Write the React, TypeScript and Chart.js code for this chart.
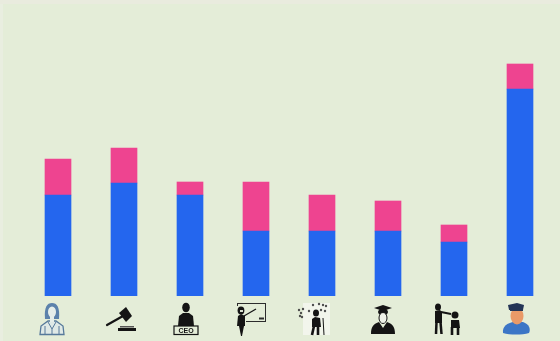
import React, { useEffect, useRef } from "react";
import { Chart, registerables } from "chart.js";

Chart.register(...registerables);

const professions = ["Doctor", "Judge", "CEO", "Teacher", "Musician", "Graduate", "Parent", "Police"];
const lowerSegment = [101, 113, 101, 65, 65, 65, 54, 207];
const upperSegment = [36, 35, 13, 49, 36, 30, 17, 25];

const BLUE = "#2466ee";
const PINK = "#ee4490";
const BACKGROUND = "#e4edd8";
const INK = "#141414";

type Ctx = CanvasRenderingContext2D;

function disc(c: Ctx, x: number, y: number, rx: number, ry = rx) {
  c.beginPath();
  c.ellipse(x, y, rx, ry, 0, 0, Math.PI * 2);
  c.fill();
}

function poly(c: Ctx, pts: number[]) {
  c.beginPath();
  c.moveTo(pts[0], pts[1]);
  for (let i = 2; i < pts.length; i += 2) c.lineTo(pts[i], pts[i + 1]);
  c.closePath();
  c.fill();
}

function seg(c: Ctx, x1: number, y1: number, x2: number, y2: number, w: number) {
  c.lineWidth = w;
  c.beginPath();
  c.moveTo(x1, y1);
  c.lineTo(x2, y2);
  c.stroke();
}

// Pictograms are drawn around the tick position, with y measured from the axis baseline.
const pictograms: ((c: Ctx) => void)[] = [
  (c) => {
    c.fillStyle = "#dfe9e6";
    c.strokeStyle = "#56799a";
    c.lineWidth = 1.3;
    c.beginPath();
    c.moveTo(-18, 38.5);
    c.lineTo(-17, 30);
    c.lineTo(-10, 25);
    c.lineTo(-2, 25);
    c.lineTo(5, 30);
    c.lineTo(6, 38.5);
    c.closePath();
    c.fill();
    c.stroke();
    c.fillStyle = "#5c82ab";
    c.beginPath();
    c.moveTo(-13, 23);
    c.bezierCurveTo(-14, 11, -11, 7, -6, 7);
    c.bezierCurveTo(-1, 7, 2, 11, 1, 23);
    c.closePath();
    c.fill();
    c.fillStyle = "#e6eeea";
    disc(c, -6, 16, 4, 5.5);
    c.fillRect(-8, 20, 4, 6);
    c.strokeStyle = "#56799a";
    c.lineWidth = 1;
    c.beginPath();
    c.moveTo(-10, 26);
    c.lineTo(-6, 33);
    c.lineTo(-2, 26);
    c.moveTo(-6, 33);
    c.lineTo(-6, 38);
    c.moveTo(-13, 30);
    c.lineTo(-13, 38);
    c.moveTo(1, 30);
    c.lineTo(1, 38);
    c.stroke();
  },
  (c) => {
    c.fillStyle = INK;
    c.strokeStyle = INK;
    c.lineCap = "round";
    seg(c, -17, 29, -1, 20, 2.2);
    c.lineCap = "butt";
    poly(c, [-5, 17, 2, 11, 8, 20, 2, 26]);
    c.fillStyle = "#555";
    c.fillRect(-4, 30, 14, 1.5);
    c.fillStyle = INK;
    c.fillRect(-6, 32, 18, 3);
  },
  (c) => {
    c.fillStyle = INK;
    c.strokeStyle = INK;
    c.lineWidth = 1.2;
    disc(c, -4, 11.5, 3.8, 4.8);
    poly(c, [-12, 30, -11, 20, -7, 17, -1, 17, 3, 20, 4, 30]);
    c.fillStyle = BACKGROUND;
    c.fillRect(-16, 30, 24, 8.5);
    c.strokeRect(-16, 30, 24, 8.5);
    c.fillStyle = INK;
    c.font = "bold 7px 'Liberation Sans', sans-serif";
    c.textAlign = "center";
    c.textBaseline = "middle";
    c.fillText("CEO", -4, 34.6);
  },
  (c) => {
    c.fillStyle = INK;
    c.strokeStyle = "#2c2c2c";
    c.lineWidth = 1;
    c.strokeRect(-18.5, 7.5, 28, 18);
    seg(c, 3, 22.5, 8, 22.5, 2);
    c.fillStyle = BACKGROUND;
    c.fillRect(-20, 10, 10, 16);
    c.fillStyle = INK;
    c.strokeStyle = INK;
    disc(c, -15, 14.5, 3.4, 4);
    poly(c, [-19, 30, -18, 20, -15, 18, -11, 20, -11, 30]);
    poly(c, [-17, 30, -12, 30, -14, 40, -15, 40]);
    seg(c, -12, 20, 0, 13, 1.3);
    c.fillStyle = "#d8dfcf";
    c.fillRect(-16, 14, 3, 2);
  },
  (c) => {
    c.fillStyle = "#f2f5ec";
    c.fillRect(-19, 7, 27, 32);
    c.fillStyle = INK;
    c.strokeStyle = INK;
    disc(c, -6, 17, 3, 3.6);
    poly(c, [-10, 31, -10, 23, -7, 21, -2, 22, -1, 31]);
    seg(c, -8, 30, -10, 39, 2.6);
    seg(c, -4, 30, -4, 39, 2.6);
    seg(c, 1, 22, 2, 39, 1);
    c.fillStyle = "#4d4d4d";
    const specks = [[-23, 14], [-21, 17], [-22, 20], [-19, 13], [-20, 21], [-13, 15], [-9, 9], [-3, 8], [1, 9], [4, 10], [3, 15], [-1, 14]];
    for (const [x, y] of specks) disc(c, x, y, 1.2);
  },
  (c) => {
    c.fillStyle = INK;
    poly(c, [-14, 12, -5, 9, 4, 12, -5, 15]);
    disc(c, -5, 16, 5, 3.5);
    c.beginPath();
    c.moveTo(-17, 38);
    c.bezierCurveTo(-17, 30, -14, 28, -9, 26);
    c.lineTo(-5, 32);
    c.lineTo(-1, 26);
    c.bezierCurveTo(4, 28, 7, 30, 7, 38);
    c.closePath();
    c.fill();
    c.fillStyle = "#eef2e8";
    disc(c, -5, 22, 4, 5.5);
    c.strokeStyle = INK;
    c.lineWidth = 1;
    c.stroke();
  },
  (c) => {
    c.fillStyle = INK;
    c.strokeStyle = INK;
    disc(c, -16, 11, 3, 3.5);
    poly(c, [-19, 27, -19, 15, -14, 14, -12, 16, -12, 27]);
    seg(c, -13, 16, -3, 18, 1.8);
    seg(c, -17.5, 26, -18, 38, 2.5);
    seg(c, -13.5, 26, -12.5, 38, 2.5);
    disc(c, 1, 19, 3.5, 3.5);
    poly(c, [-3, 32, -3, 24, 5, 24, 6, 32]);
    seg(c, -2, 31, -2, 39, 2.6);
    seg(c, 4, 31, 4, 39, 2.6);
  },
  (c) => {
    c.fillStyle = "#3c76c6";
    c.beginPath();
    c.moveTo(-17, 37);
    c.bezierCurveTo(-18, 30, -12, 27, -7, 26);
    c.lineTo(3, 26);
    c.bezierCurveTo(9, 28, 11, 33, 9, 37);
    c.bezierCurveTo(2, 39, -10, 39, -17, 37);
    c.closePath();
    c.fill();
    c.fillStyle = "#ea9a68";
    disc(c, -3, 20, 6.5, 8.5);
    c.fillStyle = "#243556";
    poly(c, [-11, 14, -12, 9, -3, 7, 4, 9, 3, 14]);
    c.fillRect(-10, 13, 13, 2);
  },
];

const pictogramPlugin = {
  id: "pictogramAxis",
  afterDraw(chart: Chart) {
    const { ctx, scales } = chart;
    professions.forEach((_, i) => {
      ctx.save();
      ctx.translate(scales.x.getPixelForValue(i), scales.y.getPixelForValue(0));
      pictograms[i](ctx);
      ctx.restore();
    });
  },
};

export default function App() {
  const ref = useRef<HTMLCanvasElement>(null);

  useEffect(() => {
    document.body.style.margin = "0";
    const chart = new Chart(ref.current!, {
      type: "bar",
      data: {
        labels: professions,
        datasets: [
          { data: lowerSegment, backgroundColor: BLUE, barThickness: 26, borderWidth: 0 },
          { data: upperSegment, backgroundColor: PINK, barThickness: 26, borderWidth: 0 },
        ],
      },
      options: {
        animation: false,
        responsive: false,
        layout: { padding: { left: 25, right: 7, top: 0, bottom: 45 } },
        plugins: { legend: { display: false }, tooltip: { enabled: false } },
        scales: {
          x: { stacked: true, display: false },
          y: { stacked: true, display: false, min: 0, max: 296 },
        },
      },
      plugins: [pictogramPlugin],
    });
    return () => chart.destroy();
  }, []);

  return (
    <canvas
      ref={ref}
      width={560}
      height={341}
      style={{
        display: "block",
        background: `linear-gradient(#e9ebde 0 4px, transparent 4px), linear-gradient(90deg, #e9eee0 0 3px, transparent 3px), ${BACKGROUND}`,
      }}
    />
  );
}
